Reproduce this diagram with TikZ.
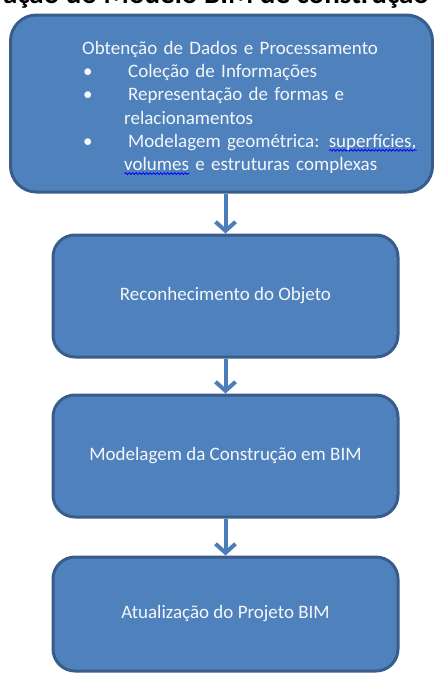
\documentclass[tikz,border=0pt]{standalone}
\usepackage{fontspec}
\setmainfont{Carlito}
\usepackage{xcolor}
\usetikzlibrary{arrows.meta, decorations.pathmorphing}
\definecolor{boxfill}{HTML}{4F81BD}
\definecolor{boxline}{HTML}{385D8A}
\definecolor{arrowblue}{HTML}{4A7EBB}
\definecolor{boxtext}{HTML}{F4F7FB}
\newsavebox{\spellbox}
\newcommand{\spellmark}[1]{\sbox{\spellbox}{#1}\rlap{\raisebox{-4pt}{\tikz\draw[blue, line width=0.8pt, decorate, decoration={snake, amplitude=0.9pt, segment length=3.5pt}] (0pt,0pt) -- (\wd\spellbox,0pt);}}\usebox{\spellbox}}
\tikzset{
    flow-box/.style = {draw=boxline, fill=boxfill, line width=3pt, rectangle, rounded corners=22pt, text=boxtext, font=\fontsize{19}{23}\selectfont},
    flow-arrow/.style = {draw=arrowblue, line width=4pt, -{Straight Barb[length=9pt, width=20pt]}},
    flow-title/.style = {font=\bfseries\fontsize{29}{32}\selectfont, text=black},
}

\begin{document}
\begin{tikzpicture}[x=1pt, y=-1pt]
\path[use as bounding box] (0,0) rectangle (434,673);
\clip (0,0) rectangle (434,673);
\node[flow-title, anchor=base] (title) at (216,3) {ação do Modelo BIM de construção};
\node[flow-box, rounded corners=26pt, minimum width=422pt, minimum height=177pt] (dados) at (221.5,103.5) {};
\node[text=boxtext, font=\fontsize{19}{23.3}\selectfont, text width=345pt, align=left, inner sep=0pt, anchor=north west] (dadostext) at (82,41) {%
    Obtenção de Dados e Processamento\\
    \makebox[42pt][l]{\hspace{1pt}•}\hspace{4pt}Coleção de Informações\\
    \makebox[42pt][l]{\hspace{1pt}•}\hspace{4pt}Representação de formas e\\
    \hspace*{42pt}relacionamentos\\
    \makebox[42pt][l]{\hspace{1pt}•}\hspace{4pt}Modelagem geométrica: \spellmark{superfícies,}\\
    \hspace*{42pt}\spellmark{volumes} e estruturas complexas};
\node[flow-box, minimum width=345pt, minimum height=122pt] (objeto) at (225.5,296) {Reconhecimento do Objeto};
\node[flow-box, minimum width=345pt, minimum height=122pt] (modelagem) at (225.5,456) {Modelagem da Construção em BIM};
\node[flow-box, minimum width=345pt, minimum height=114pt] (projeto) at (225.5,614) {Atualização do Projeto BIM};
\draw[flow-arrow] (dados.south -| objeto.north) -- (objeto.north);
\draw[flow-arrow] (objeto) -- (modelagem);
\draw[flow-arrow] (modelagem) -- (projeto);
\end{tikzpicture}
\end{document}
